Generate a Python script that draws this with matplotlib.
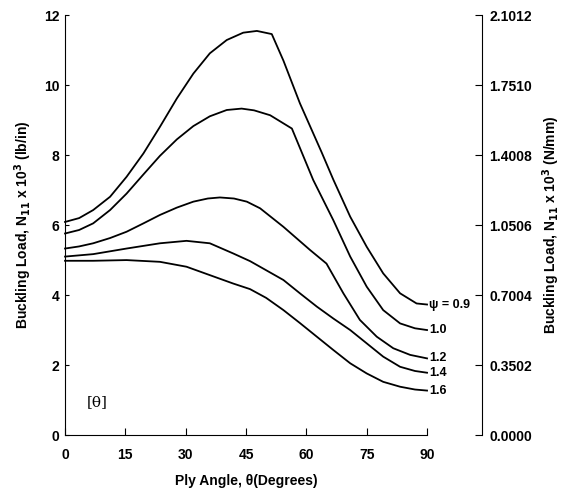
import numpy as np
import matplotlib
matplotlib.use("Agg")
import matplotlib.pyplot as plt

plt.rcParams['font.family'] = ['Liberation Sans', 'DejaVu Sans']
plt.rcParams['font.weight'] = 'bold'

# ply angle (deg) and buckling load (x10^3 lb/in) for each psi
x_09 = [0, 3.5, 7.0, 11.2, 15.3, 19.5, 23.6, 27.8, 31.9, 36.0, 40.2, 44.3, 47.7, 51.4,
        54.3, 58.4, 63.8, 66.7, 70.9, 75.0, 79.1, 83.3, 87.4, 90]
y_09 = [6.09, 6.20, 6.43, 6.81, 7.38, 8.05, 8.81, 9.62, 10.33, 10.91, 11.29, 11.50, 11.55, 11.46,
        10.70, 9.48, 8.08, 7.30, 6.24, 5.38, 4.62, 4.05, 3.76, 3.73]

x_10 = [0, 3.5, 7.0, 11.2, 15.3, 19.5, 23.6, 27.8, 31.9, 36.0, 40.2, 43.9, 47.0, 51.0,
        56.4, 61.7, 66.7, 70.9, 75.0, 79.1, 83.3, 87.0, 90]
y_10 = [5.76, 5.86, 6.05, 6.43, 6.90, 7.45, 7.98, 8.45, 8.83, 9.11, 9.29, 9.33, 9.28, 9.14,
        8.76, 7.29, 6.14, 5.10, 4.24, 3.57, 3.19, 3.05, 3.00]

x_12 = [0, 3.5, 7.0, 11.2, 15.3, 19.5, 23.6, 27.8, 31.9, 35.5, 38.5, 42.0, 45.2, 48.5,
        54.3, 60.9, 65.0, 69.2, 73.3, 77.5, 81.6, 85.8, 90]
y_12 = [5.33, 5.39, 5.48, 5.63, 5.81, 6.05, 6.29, 6.50, 6.67, 6.76, 6.79, 6.76, 6.67, 6.48,
        5.95, 5.29, 4.90, 4.05, 3.29, 2.81, 2.48, 2.29, 2.19]

x_14 = [0, 7.0, 15.3, 23.6, 30.2, 36.0, 41.8, 46.0, 50.0, 54.3, 58.4, 62.6, 66.7,
        70.9, 75.0, 79.1, 83.3, 87.0, 90]
y_14 = [5.10, 5.17, 5.33, 5.48, 5.55, 5.48, 5.19, 4.97, 4.71, 4.43, 4.05, 3.67, 3.33,
        3.00, 2.62, 2.24, 1.95, 1.83, 1.78]

x_16 = [0, 7.0, 15.3, 23.6, 30.2, 36.0, 41.8, 46.0, 50.0, 54.3, 58.4, 62.6, 66.7,
        70.9, 75.0, 79.1, 83.3, 87.0, 90]
y_16 = [4.98, 4.98, 5.00, 4.95, 4.81, 4.57, 4.33, 4.17, 3.92, 3.57, 3.20, 2.81, 2.43,
        2.05, 1.76, 1.52, 1.38, 1.30, 1.27]

labels = ["\u03c8 = 0.9", "1.0", "1.2", "1.4", "1.6"]
xticks = [0, 15, 30, 45, 60, 75, 90]
yticks = [0, 2, 4, 6, 8, 10, 12]
yticks_si = [0.0, 0.3502, 0.7004, 1.0506, 1.4008, 1.7510, 2.1012]

fig = plt.figure(figsize=(5.63, 4.98), dpi=100)
ax = fig.add_axes([0.1155, 0.1265, 0.643, 0.843])

series = [(x_09, y_09), (x_10, y_10), (x_12, y_12), (x_14, y_14), (x_16, y_16)]
for (xs, ys), lab in zip(series, labels):
    ax.plot(xs, ys, color='black', lw=1.3, clip_on=False, solid_joinstyle='round')
    ax.text(90.6, ys[-1], lab, fontsize=9, fontweight='bold',
            ha='left', va='center')

ax.text(8, 0.95, "[\u03b8]", fontsize=11, family='DejaVu Serif',
        fontweight='normal', ha='center', va='center')

ax.set_xlim(0, 90)
ax.set_ylim(0, 12)
ax.set_xticks(xticks)
ax.set_yticks(yticks)
ax.spines['top'].set_visible(False)
ax.spines['right'].set_visible(False)
ax.tick_params(axis='x', direction='in', length=5, pad=9, labelsize=10)
ax.tick_params(axis='y', direction='in', length=3, pad=4, labelsize=10)
ax.set_xlabel("Ply Angle, \u03b8(Degrees)", fontsize=10, fontweight='bold', labelpad=9)
ax.set_ylabel("Buckling Load, N$_{\\mathbf{11}}$ x 10$^{\\mathbf{3}}$ (lb/in)",
              fontsize=10, fontweight='bold', labelpad=7)

ax2 = ax.twinx()
ax2.set_ylim(0, 2.1012)
ax2.set_yticks(yticks_si)
ax2.set_yticklabels([f"{v:.4f}" for v in yticks_si])
for s in ['top', 'left', 'bottom']:
    ax2.spines[s].set_visible(False)
ax2.spines['right'].set_position(('axes', 1.152))
ax2.tick_params(axis='y', direction='in', length=5, pad=5, labelsize=10)
ax2.set_ylabel("Buckling Load, N$_{\\mathbf{11}}$ x 10$^{\\mathbf{3}}$ (N/mm)",
               fontsize=10, fontweight='bold', labelpad=6)

fig.savefig("out.png", dpi=100)
